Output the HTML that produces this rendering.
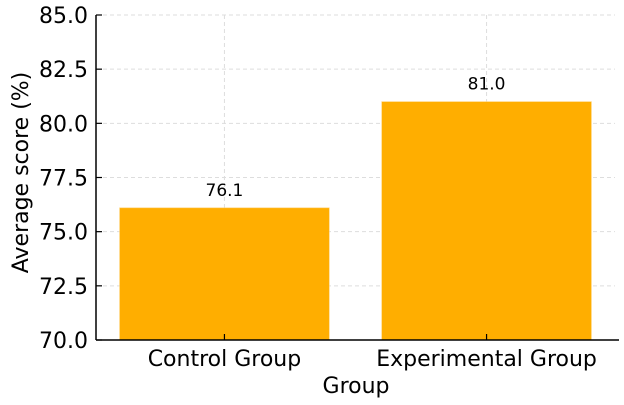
<!DOCTYPE html>
<html><head><meta charset="utf-8"><style>
body{margin:0;background:#fff}
svg{display:block;font-family:"DejaVu Sans","Liberation Sans",sans-serif}
</style></head><body>
<svg id="chart" width="624" height="405" viewBox="0 0 624 405" xmlns="http://www.w3.org/2000/svg"></svg>
<script>
const categories = ["Control Group", "Experimental Group"];
const values = [76.1, 81.0];
const valueLabels = ["76.1", "81.0"];
const yTicks = [70.0, 72.5, 75.0, 77.5, 80.0, 82.5, 85.0];
const yTickLabels = ["70.0", "72.5", "75.0", "77.5", "80.0", "82.5", "85.0"];

const NS = "http://www.w3.org/2000/svg";
const svg = document.getElementById("chart");
const L = 96, R = 615, T = 15, B = 340;
const yMin = 70, yMax = 85;
const xMin = -0.49, xMax = 1.49;
const SX = 1.0;
const y = v => B - (v - yMin) / (yMax - yMin) * (B - T);
const x = i => L + (i - xMin) / (xMax - xMin) * (R - L);
const unit = (R - L) / (xMax - xMin);
function mk(tag, attrs, text) {
  const e = document.createElementNS(NS, tag);
  for (const k in attrs) e.setAttribute(k, attrs[k]);
  if (text !== undefined) e.textContent = text;
  svg.appendChild(e);
  return e;
}
function txt(px, py, anchor, size, s, rot) {
  return mk("text", {x: 0, y: 0, "text-anchor": anchor, "font-size": size, fill: "#000",
    transform: "translate(" + px + "," + py + ")" + (rot ? " rotate(-90)" : "") + " scale(" + SX + ",1)"}, s);
}
yTicks.forEach((t, i) => {
  const g = mk("line", {x1: L, x2: R, y1: y(t), y2: y(t), stroke: "#dddddd", "stroke-width": 1, "stroke-dasharray": "4,3"});
  
  
});
categories.forEach((c, i) => {
  const g = mk("line", {x1: x(i), x2: x(i), y1: T, y2: B, stroke: "#dddddd", "stroke-width": 1, "stroke-dasharray": "4,3"});
  
  
});
categories.forEach((c, i) => {
  const w = 0.8 * unit;
  const b = mk("rect", {x: x(i) - w / 2, y: y(values[i]), width: w, height: B - y(values[i]), fill: "#ffae00", stroke: "#ffd070", "stroke-width": 0.6});
  
  
  const l = txt(x(i), y(values[i]) - 12, "middle", 17, valueLabels[i]);
  
  
  const tk = mk("line", {x1: x(i), x2: x(i), y1: B - 6, y2: B, stroke: "#000", "stroke-width": 1.2});
  
  
  const tl = txt(x(i), 366, "middle", 22, c);
  
  
});
yTicks.forEach((t, i) => {
  const tk = mk("line", {x1: L, x2: L + 6, y1: y(t), y2: y(t), stroke: "#000", "stroke-width": 1.2});
  
  
  const tl = txt(L - 8, y(t) + 8, "end", 22, yTickLabels[i]);
  
  
});
const ay = mk("line", {x1: L, x2: L, y1: T, y2: B, stroke: "#000", "stroke-width": 1.5});


const ax = mk("line", {x1: L, x2: R + 4, y1: B, y2: B, stroke: "#000", "stroke-width": 1.5});


const xt = txt(356, 393, "middle", 22, "Group");


const yt = txt(28, (T + B) / 2 - 5, "middle", 22, "Average score (%)", true);


</script>
</body></html>
